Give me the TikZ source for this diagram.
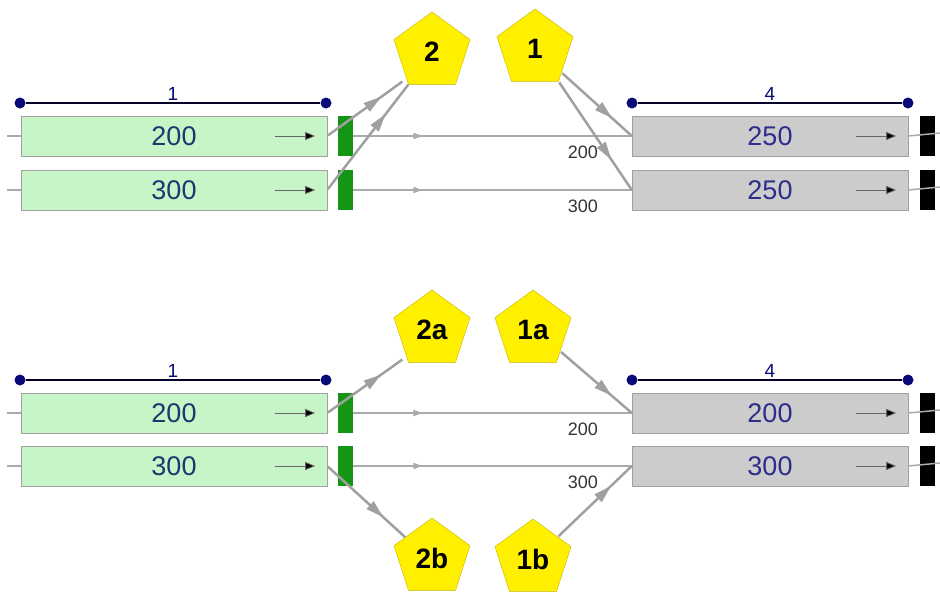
\documentclass[tikz,border=0pt]{standalone}
\usepackage{fontspec}
\setmainfont{Liberation Sans}
\usetikzlibrary{arrows.meta,calc,positioning,shapes.geometric,decorations.markings}
\definecolor{BoxGreen}{RGB}{200,245,200}
\definecolor{GateGreen}{RGB}{20,150,20}
\definecolor{BoxGrey}{RGB}{204,204,204}
\definecolor{EdgeGrey}{RGB}{160,160,160}
\definecolor{LinkGrey}{RGB}{170,170,170}
\definecolor{SiteYellow}{RGB}{255,240,0}
\definecolor{SiteEdge}{RGB}{200,180,0}
\definecolor{DotNavy}{RGB}{10,10,120}
\definecolor{SrcText}{RGB}{30,55,110}
\definecolor{DstText}{RGB}{45,45,140}

\tikzset{
  srcbox/.style={draw=EdgeGrey,fill=BoxGreen,minimum width=306pt,minimum height=40pt,
    inner sep=0pt,text=SrcText,font=\fontsize{27}{30}\selectfont},
  dstbox/.style={srcbox,fill=BoxGrey,minimum width=276pt,text=DstText},
  gatebox/.style={fill=GateGreen,minimum width=15pt,minimum height=40pt,inner sep=0pt},
  stopbox/.style={fill=black,minimum width=15pt,minimum height=40pt,inner sep=0pt},
  site/.style={regular polygon,regular polygon sides=5,draw=SiteEdge,fill=SiteYellow,
    minimum size=80pt,inner sep=0pt,font=\bfseries\fontsize{28}{30}\selectfont},
  stub/.style={draw=LinkGrey,line width=1.5pt},
  flow/.style={draw=LinkGrey,line width=1.5pt,decoration={markings,
    mark=at position 0.25 with {\arrow{Triangle[length=9pt,width=6pt]}}},postaction={decorate}},
  link/.style={draw=EdgeGrey,line width=2.5pt,shorten <=1pt,decoration={markings,
    mark=at position 0.72 with {\arrow{Triangle[length=18pt,width=10pt]}}},postaction={decorate}},
  inner/.style={draw=black!60,line width=0.8pt,-{Triangle[length=10pt,width=8pt,fill=black]}},
  bracket/.style={draw=black!65!DotNavy,line width=2.2pt},
  dot/.style={circle,fill=DotNavy,minimum size=11pt,inner sep=0pt},
  qty/.style={text=black!80,font=\fontsize{18}{20}\selectfont},
  tag/.style={text=DotNavy,font=\fontsize{19}{20}\selectfont}
}

\begin{document}
\begin{tikzpicture}[x=1pt,y=-1pt]
  \useasboundingbox (0,0) rectangle (940,592);

  % rows: source box, gate, destination box, end block
  \foreach \row/\y/\a/\b in {a/136/200/250,b/190/300/250,c/413/200/200,d/466/300/300}{
    \node[srcbox] (s\row) at (174,\y) {\a};
    \node[gatebox] (g\row) at (345,\y) {};
    \node[dstbox] (d\row) at (770,\y) {\b};
    \node[stopbox] (k\row) at (927,\y) {};
    \coordinate (in\row) at (7,\y);
    \coordinate (out\row) at (940,\y-3);
    \draw[stub] (in\row) -- (s\row.west);
    \draw[flow] (g\row.east) -- (d\row.west);
    \draw[stub] (d\row.east) -- (out\row);
    \draw[inner] ([xshift=-52pt]s\row.east) -- ([xshift=-12pt]s\row.east);
    \draw[inner] ([xshift=-52pt]d\row.east) -- ([xshift=-12pt]d\row.east);
    \node[qty] at ([xshift=-49pt,yshift=-16pt]d\row.west) {\a};
  }

  % brackets
  \foreach \p/\y in {t/103,u/380}{
    \node[dot] (l1\p) at (20,\y) {};
    \node[dot] (r1\p) at (326,\y) {};
    \draw[bracket] (l1\p) -- (r1\p);
    \node[tag,above=-1pt of $(l1\p)!.5!(r1\p)$] {1};
    \node[dot] (l4\p) at (632,\y) {};
    \node[dot] (r4\p) at (908,\y) {};
    \draw[bracket] (l4\p) -- (r4\p);
    \node[tag,above=-1pt of $(l4\p)!.5!(r4\p)$] {4};
  }

  % sites
  \node[site] (p2) at (432,52) {2};
  \node[site] (p1) at (535,49) {1};
  \node[site] (p2a) at (432,330) {2a};
  \node[site] (p1a) at (533,330) {1a};
  \node[site] (p2b) at (432,558) {2b};
  \node[site] (p1b) at (533,559) {1b};

  % links to and from sites
  \draw[link] (sa.east) -- ([xshift=-6pt,yshift=3pt]p2.corner 3);
  \draw[link] (sb.east) -- (p2.corner 3);
  \draw[link] ($(p1.corner 4)!.2!(p1.corner 5)$) -- (da.west);
  \draw[link] (p1.corner 4) -- (db.west);
  \draw[link] (sc.east) -- ([xshift=-6pt,yshift=3pt]p2a.corner 3);
  \draw[link] (sd.east) -- ($(p2b.corner 2)!.3!(p2b.corner 1)$);
  \draw[link] ($(p1a.corner 4)!.25!(p1a.corner 5)$) -- (dc.west);
  \draw[link] ($(p1b.corner 5)!.35!(p1b.corner 1)$) -- (dd.west);
\end{tikzpicture}
\end{document}
